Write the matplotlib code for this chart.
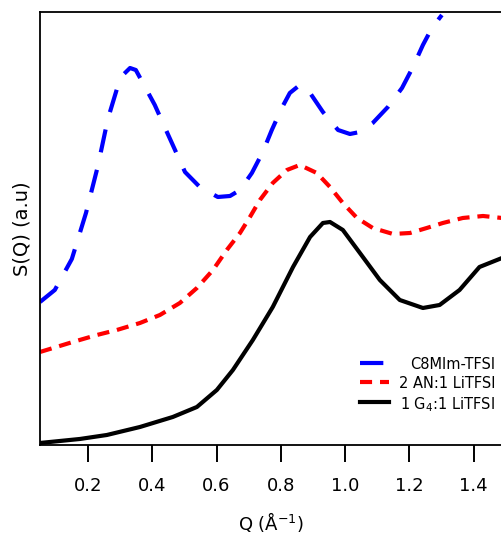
import numpy as np
import matplotlib
matplotlib.use("Agg")
import matplotlib.pyplot as plt

# S(Q) curves (arbitrary units)
q_blue = [0.051, 0.097, 0.150, 0.194, 0.231, 0.262, 0.293, 0.312, 0.331, 0.349,
          0.371, 0.408, 0.440, 0.471, 0.502, 0.548, 0.604, 0.642, 0.673, 0.710,
          0.744, 0.772, 0.803, 0.828, 0.859, 0.891, 0.931, 0.978, 1.015, 1.046,
          1.086, 1.133, 1.177, 1.211, 1.242, 1.270, 1.301]
s_blue = [1.43, 1.55, 1.86, 2.32, 2.79, 3.26, 3.59, 3.71, 3.77, 3.75,
          3.62, 3.40, 3.17, 2.95, 2.73, 2.58, 2.48, 2.49, 2.55, 2.72,
          2.93, 3.15, 3.37, 3.52, 3.60, 3.52, 3.33, 3.15, 3.11, 3.13,
          3.22, 3.38, 3.57, 3.78, 4.00, 4.17, 4.30]

q_red = [0.051, 0.153, 0.228, 0.290, 0.362, 0.424, 0.486, 0.539, 0.589, 0.632,
         0.673, 0.704, 0.735, 0.775, 0.819, 0.859, 0.912, 0.953, 0.993, 1.037,
         1.086, 1.149, 1.202, 1.254, 1.304, 1.366, 1.429, 1.488]
s_red = [0.93, 1.03, 1.10, 1.15, 1.22, 1.30, 1.42, 1.57, 1.75, 1.95,
         2.12, 2.28, 2.45, 2.62, 2.75, 2.80, 2.72, 2.58, 2.42, 2.27,
         2.17, 2.11, 2.12, 2.17, 2.22, 2.27, 2.29, 2.27]

q_black = [0.051, 0.175, 0.259, 0.362, 0.464, 0.539, 0.601, 0.651, 0.713, 0.775,
           0.838, 0.891, 0.931, 0.953, 0.993, 1.046, 1.108, 1.170, 1.242, 1.294,
           1.356, 1.418, 1.488]
s_black = [0.02, 0.06, 0.10, 0.18, 0.28, 0.38, 0.55, 0.75, 1.05, 1.38,
           1.78, 2.08, 2.22, 2.23, 2.15, 1.92, 1.65, 1.45, 1.37, 1.40,
           1.55, 1.78, 1.87]

labels = ["C8MIm-TFSI", "2 AN:1 LiTFSI", "1 G$_4$:1 LiTFSI"]
xticks = [0.2, 0.4, 0.6, 0.8, 1.0, 1.2, 1.4]

fig = plt.figure(figsize=(5.02, 5.38), dpi=100)
ax = fig.add_axes([0.0797, 0.1729, 0.9203, 0.8048])

style = dict(lw=3, solid_joinstyle="round", dash_joinstyle="round")
ax.plot(q_blue, s_blue, color="#0000ff", dashes=(5.6, 4.3), label=labels[0], **style)
ax.plot(q_red, s_red, color="#ff0000", dashes=(2.9, 1.9), label=labels[1], **style)
ax.plot(q_black, s_black, color="black", label=labels[2], **style)

ax.set_xlim(0.051, 1.488)
ax.set_ylim(0, 4.33)
ax.set_xticks(xticks)
ax.set_xticklabels(["%.1f" % t for t in xticks])
ax.set_yticks([])
ax.tick_params(axis="x", direction="out", length=12, width=1.4, pad=11, labelsize=13)
for side in ["left", "top", "bottom"]:
    ax.spines[side].set_linewidth(1.3)
ax.spines["right"].set_visible(False)

ax.set_xlabel("Q (Å$^{-1}$)", fontsize=13, labelpad=11)
ax.set_ylabel("S(Q) (a.u)", fontsize=14, labelpad=6)

# legend: handles on the left, text right-aligned against the axes edge
leg = ax.legend(loc="upper left", bbox_to_anchor=(0.6926, 0.2055), frameon=False,
                fontsize=10.5, handlelength=2.0, handletextpad=0.6,
                labelspacing=0.25, borderaxespad=0, borderpad=0)
fig.canvas.draw()
renderer = fig.canvas.get_renderer()
inv = ax.transAxes.inverted()
for line, t, lab in zip(leg.get_lines(), leg.get_texts(), labels):
    bb = line.get_window_extent(renderer)
    y = inv.transform((0, (bb.y0 + bb.y1) / 2))[1]
    t.set_visible(False)
    ax.text(0.985, y, lab, transform=ax.transAxes, ha="right",
            va="center_baseline", fontsize=10.5)

fig.savefig("out.png", dpi=100)
